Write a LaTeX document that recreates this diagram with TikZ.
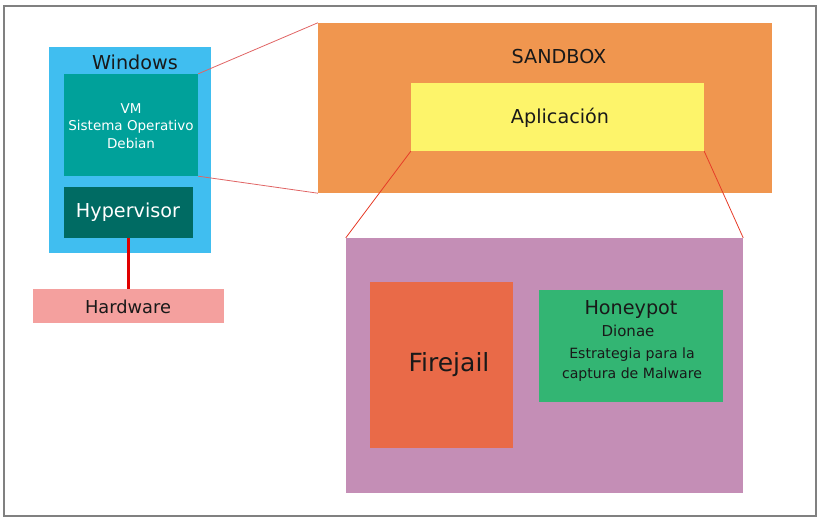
\documentclass[tikz,border=0pt]{standalone}
\usepackage{fontspec}
\setmainfont{DejaVu Sans}
\definecolor{winblue}{HTML}{40BEF0}
\definecolor{vmteal}{HTML}{00A19A}
\definecolor{hypteal}{HTML}{006B63}
\definecolor{hwpink}{HTML}{F4A09E}
\definecolor{sbxorange}{HTML}{F0964F}
\definecolor{appyellow}{HTML}{FDF46A}
\definecolor{jailpurple}{HTML}{C48EB6}
\definecolor{fjorange}{HTML}{E96A48}
\definecolor{hpgreen}{HTML}{33B573}
\definecolor{zoomred}{HTML}{E06464}
\definecolor{linkred}{HTML}{E63C28}
\definecolor{wirered}{HTML}{E00000}
\newcommand{\fs}[1]{\fontsize{#1}{1.2\dimexpr#1pt\relax}\selectfont}
\begin{document}
\begin{tikzpicture}[x=1pt,y=-1pt,
  box/.style={inner sep=0pt,draw=none},
  lbl/.style={inner sep=0pt,text=black!90,align=center}]
\useasboundingbox (0,0) rectangle (817,518);
\draw[color=gray,line width=1.5pt] (4,6) rectangle (816,516);

\node[box,fill=winblue,minimum width=162,minimum height=206] (win) at (130,150) {};
\node[box,fill=vmteal,minimum width=134,minimum height=102] (vm) at (131,125) {};
\node[box,fill=hypteal,minimum width=129,minimum height=51] (hyp) at (128.5,212.5) {};
\node[box,fill=hwpink,minimum width=191,minimum height=34] (hw) at (128.5,306) {};

\node[box,fill=sbxorange,minimum width=454,minimum height=170] (sbx) at (545,108) {};
\node[box,fill=appyellow,minimum width=293,minimum height=68] (app) at (557.5,117) {};

\node[box,fill=jailpurple,minimum width=397,minimum height=255] (capa) at (544.5,365.5) {};
\node[box,fill=fjorange,minimum width=143,minimum height=166] (fj) at (441.5,365) {};
\node[box,fill=hpgreen,minimum width=184,minimum height=112] (hp) at (631,346) {};

\node[lbl,font=\fs{19.2}] (wintxt) at (135,62) {Windows};
\node[lbl,text=white,font=\fontsize{13.5}{17.5}\selectfont] (vmtxt) at (131,126) {VM\\Sistema Operativo\\Debian};
\node[lbl,text=white,font=\fs{19.2}] (hyptxt) at (128,212) {Hypervisor};
\node[lbl,font=\fs{17.8}] (hwtxt) at (128,307) {Hardware};

\node[lbl,font=\fs{19.2}] (sbxtxt) at (559,57) {SANDBOX};
\node[lbl,font=\fs{19.2}] (apptxt) at (560,118) {Aplicación};

\node[lbl,font=\fs{25}] (fjtxt) at (449,365) {Firejail};
\node[lbl,font=\fs{19.2}] (hptxt) at (631,310) {Honeypot};
\node[lbl,font=\fs{15}] (dntxt) at (628,331) {Dionae};
\node[lbl,font=\fontsize{14.1}{20}\selectfont] (sttxt) at (632,365) {Estrategia para la\\captura de Malware};

\draw[color=zoomred,line width=0.8pt] (vm.north east) -- (sbx.north west);
\draw[color=zoomred,line width=0.8pt] (vm.south east) -- (sbx.south west);
\draw[color=linkred,line width=0.8pt] (app.south west) -- (capa.north west);
\draw[color=linkred,line width=0.8pt] (app.south east) -- (capa.north east);
\draw[color=wirered,line width=2.5pt] (hyp.south) -- (hw.north);
\end{tikzpicture}
\end{document}
